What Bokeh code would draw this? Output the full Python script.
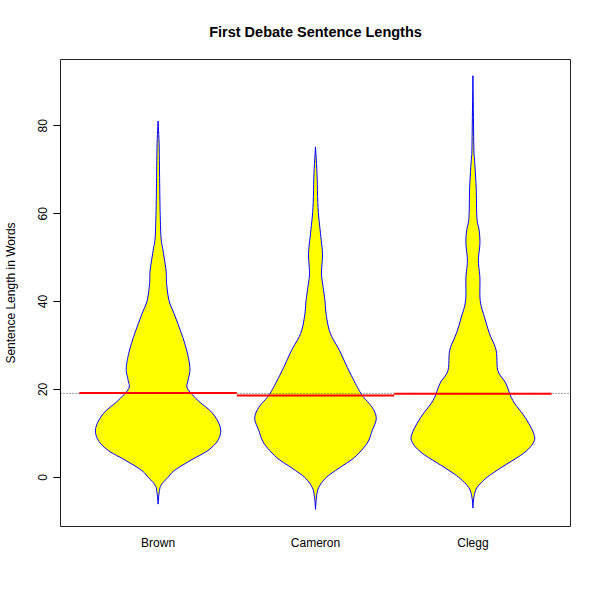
from bokeh.plotting import figure
from bokeh.models import Range1d, FixedTicker
from bokeh.embed import file_html
from bokeh.resources import INLINE

# ---- data (sentence length in words, relative density) ----
speakers = ["Brown", "Cameron", "Clegg"]

brown_len = [81.1, 75.9, 68.2, 60.7, 54.5, 51.6, 47.0, 44.1, 40.2, 37.3, 32.7, 29.5,
             26.6, 24.3, 22.0, 20.2, 17.5, 14.5, 11.1, 8.4, 6.1, 3.9, 1.6, 0.0,
             -1.8, -3.6, -6.1]
brown_dens = [0.0, 0.016, 0.024, 0.032, 0.047, 0.079, 0.127, 0.135, 0.174, 0.253, 0.372, 0.443,
              0.49, 0.506, 0.475, 0.467, 0.633, 0.87, 0.992, 0.949, 0.791, 0.522, 0.264, 0.158,
              0.047, 0.016, 0.0]

cameron_len = [75.2, 69.1, 61.4, 55.5, 50.9, 46.4, 43.2, 40.2, 36.6, 32.7, 28.9, 25.0,
               21.4, 18.6, 15.9, 13.4, 10.7, 7.7, 4.5, 2.3, 0.0, -2.3, -4.5, -7.3]
cameron_dens = [0.0, 0.024, 0.04, 0.079, 0.111, 0.095, 0.122, 0.15, 0.174, 0.237, 0.38, 0.506,
                0.633, 0.744, 0.902, 0.965, 0.902, 0.818, 0.617, 0.396, 0.174, 0.052, 0.016, 0.0]

clegg_len = [91.4, 85.7, 74.3, 72.7, 65.9, 59.1, 56.1, 53.2, 49.3, 45.5, 40.2, 36.4,
             32.7, 28.9, 24.3, 21.4, 17.5, 13.6, 10.0, 8.0, 5.5, 2.3, 0.0, -2.3,
             -4.5, -7.0]
clegg_dens = [0.0, 0.005, 0.016, 0.024, 0.052, 0.063, 0.1, 0.111, 0.087, 0.111, 0.116, 0.185,
              0.264, 0.369, 0.396, 0.522, 0.633, 0.831, 0.965, 0.965, 0.807, 0.459, 0.226, 0.068,
              0.016, 0.0]

bean_means = [19.2, 18.6, 19.0]
overall_mean = 19.1
y_ticks = [0, 20, 40, 60, 80]

lens = [brown_len, cameron_len, clegg_len]
dens = [brown_dens, cameron_dens, clegg_dens]

FONT = "Liberation Sans"
MAXW = 0.8  # full bean width at max density
X0, X1 = 0.38, 3.62


def smooth(yv, dv, n=6):
    """Catmull-Rom curve through the read points (drawing only)."""
    oy, od = [], []
    m = len(yv)
    for i in range(m - 1):
        i0, i2, i3 = max(i - 1, 0), i + 1, min(i + 2, m - 1)
        for k in range(n):
            t = k / n
            t2, t3 = t * t, t * t * t
            def cr(a, b, c, d):
                return 0.5 * (2 * b + (-a + c) * t + (2 * a - 5 * b + 4 * c - d) * t2
                              + (-a + 3 * b - 3 * c + d) * t3)
            oy.append(cr(yv[i0], yv[i], yv[i2], yv[i3]))
            od.append(max(0.0, cr(dv[i0], dv[i], dv[i2], dv[i3])))
    oy.append(yv[-1])
    od.append(dv[-1])
    return oy, od


p = figure(width=600, height=600,
           x_range=Range1d(X0, X1), y_range=Range1d(-11.2, 95.1),
           output_backend="svg", toolbar_location=None,
           min_border_left=59, min_border_right=30,
           min_border_top=59, min_border_bottom=74)

p.xgrid.visible = False
p.ygrid.visible = False
p.outline_line_color = "#222222"
p.outline_line_width = 1
p.background_fill_color = "white"
p.border_fill_color = "white"

# beans
xs, ys = [], []
for i, (L, D) in enumerate(zip(lens, dens)):
    c = i + 1
    sy, sd = smooth(L, D)
    half = [d * MAXW / 2 for d in sd]
    x = [c + h for h in half] + [c - h for h in reversed(half)]
    y = list(sy) + list(reversed(sy))
    xs.append(x)
    ys.append(y)
p.patches(xs, ys, fill_color="#FFFF00", line_color="#0000FF", line_width=1)

# overall mean dotted line
p.line([X0, X1], [overall_mean, overall_mean], line_color="#444444",
       line_dash="1 2", line_width=1)

# bean means
cx = [i + 1 for i in range(len(speakers))]
p.segment(x0=[c - 0.5 for c in cx], x1=[c + 0.5 for c in cx],
          y0=bean_means, y1=bean_means, line_color="#FF0000", line_width=2)

# axes
ya = p.yaxis[0]
ya.ticker = FixedTicker(ticks=y_ticks)
ya.bounds = (0, 80)
ya.axis_line_color = "black"
ya.major_tick_line_color = "black"
ya.major_tick_out = 7
ya.major_tick_in = 0
ya.minor_tick_line_color = None
ya.major_label_orientation = "vertical"
ya.major_label_standoff = 6
ya.major_label_text_font = FONT
ya.major_label_text_font_size = "12px"
ya.major_label_text_color = "black"
ya.axis_label = "Sentence Length in Words"
ya.axis_label_text_font = FONT
ya.axis_label_text_font_size = "12px"
ya.axis_label_text_font_style = "normal"
ya.axis_label_text_color = "black"
ya.axis_label_standoff = 18

xa = p.xaxis[0]
xa.ticker = FixedTicker(ticks=cx)
xa.major_label_overrides = {c: s for c, s in zip(cx, speakers)}
xa.axis_line_color = None
xa.major_tick_line_color = None
xa.major_tick_out = 0
xa.major_tick_in = 0
xa.minor_tick_line_color = None
xa.major_label_standoff = 9
xa.major_label_text_font = FONT
xa.major_label_text_font_size = "12px"
xa.major_label_text_color = "black"

p.title.text = "First Debate Sentence Lengths"
p.title.align = "center"
p.title.text_font = FONT
p.title.text_font_size = "14.5px"
p.title.text_font_style = "bold"
p.title.text_color = "black"
p.title.standoff = 39

open("out.html", "w").write(file_html(p, INLINE))
